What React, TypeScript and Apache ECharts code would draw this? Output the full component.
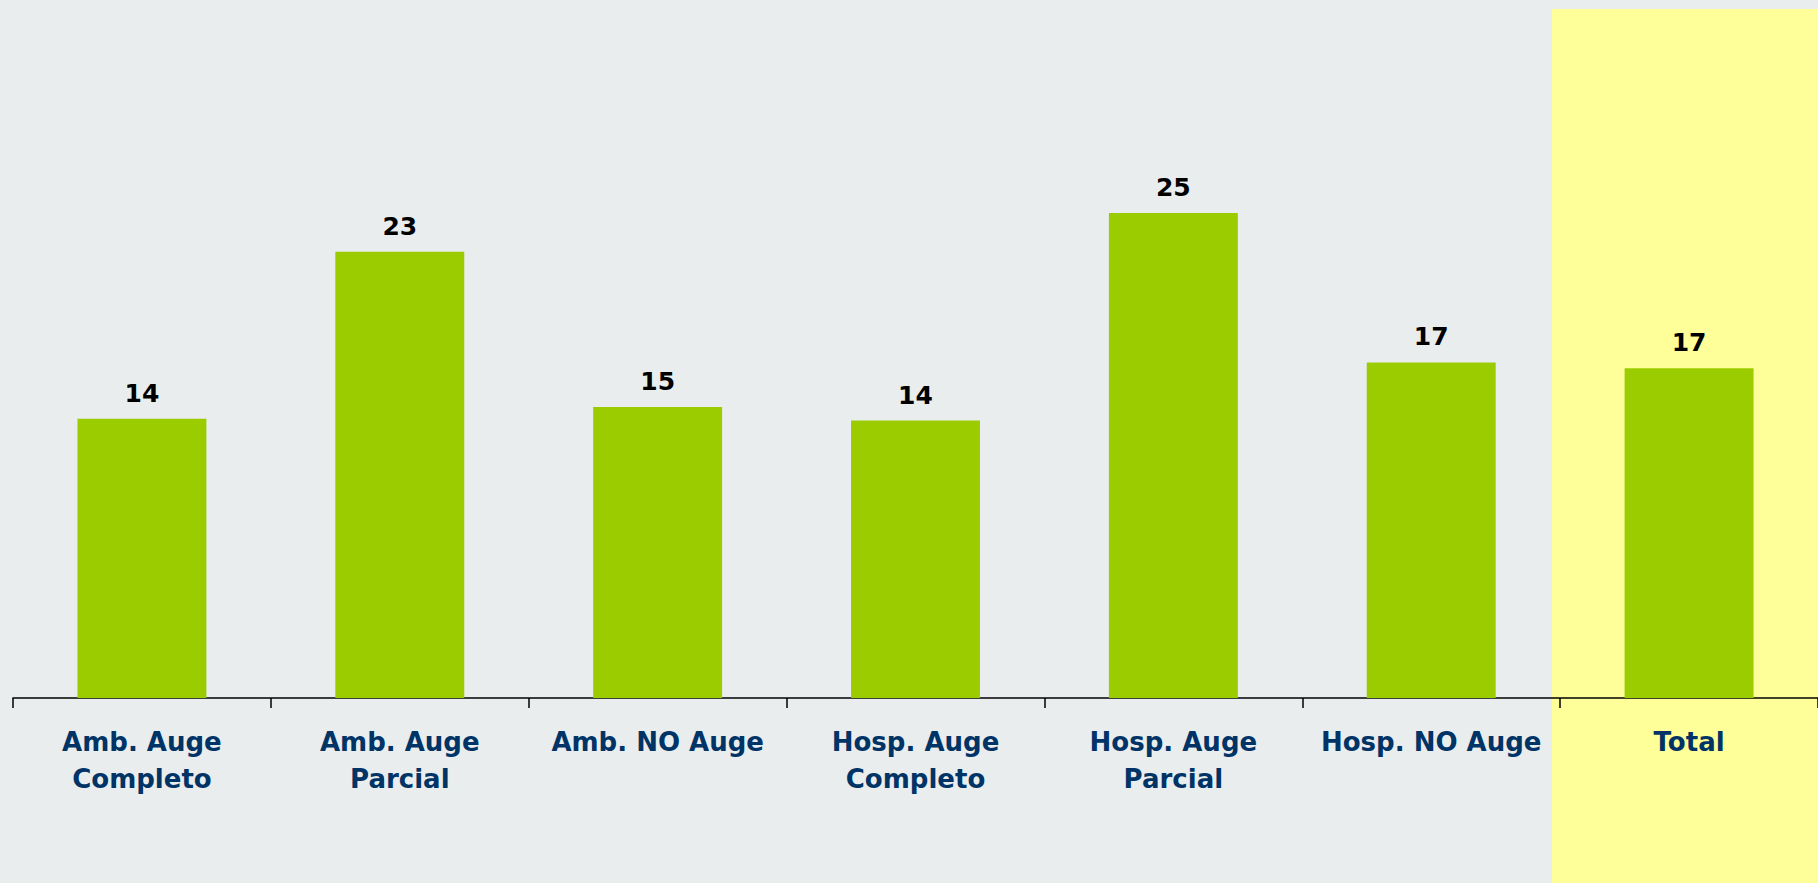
import React, { useEffect, useRef } from "react";
import * as echarts from "echarts";

const categories = [
  "Amb. Auge\nCompleto",
  "Amb. Auge\nParcial",
  "Amb. NO Auge",
  "Hosp. Auge\nCompleto",
  "Hosp. Auge\nParcial",
  "Hosp. NO Auge",
  "Total",
];
const values = [14.4, 23.0, 15.0, 14.3, 25.0, 17.3, 17.0];

export default function App() {
  const ref = useRef<HTMLDivElement>(null);
  useEffect(() => {
    if (!ref.current) return;
    const chart = echarts.init(ref.current, null, { renderer: "svg" });
    chart.setOption({
      animation: false,
      backgroundColor: "#E9EDEE",
      graphic: [
        {
          type: "rect",
          z: -10,
          silent: true,
          shape: { x: 1552, y: 9, width: 266, height: 874 },
          style: { fill: "#FFFF99" },
        },
      ],
      grid: { left: 13, right: 0, top: 19, bottom: 185, containLabel: false },
      xAxis: {
        type: "category",
        data: categories,
        axisLine: { show: true, lineStyle: { color: "#000", width: 1.5 } },
        axisTick: {
          show: true,
          alignWithLabel: false,
          length: 10,
          lineStyle: { color: "#000", width: 1.5 },
        },
        axisLabel: {
          interval: 0,
          margin: 25,
          color: "#003366",
          fontFamily: "DejaVu Sans",
          fontWeight: "bold",
          fontSize: 26,
          lineHeight: 37,
        },
      },
      yAxis: {
        type: "value",
        min: 0,
        max: 35,
        show: false,
        splitLine: { show: false },
      },
      series: [
        {
          type: "bar",
          data: values,
          barWidth: "50%",
          itemStyle: { color: "#9BCC00" },
          label: {
            show: true,
            position: "top",
            distance: 13,
            color: "#000",
            fontFamily: "DejaVu Sans",
            fontWeight: "bold",
            fontSize: 25,
            formatter: (p: any) => String(Math.round(p.value)),
          },
        },
      ],
    });
    return () => chart.dispose();
  }, []);
  return (
    <div
      ref={ref}
      style={{ position: "fixed", left: 0, top: 0, width: 1818, height: 883 }}
    />
  );
}
